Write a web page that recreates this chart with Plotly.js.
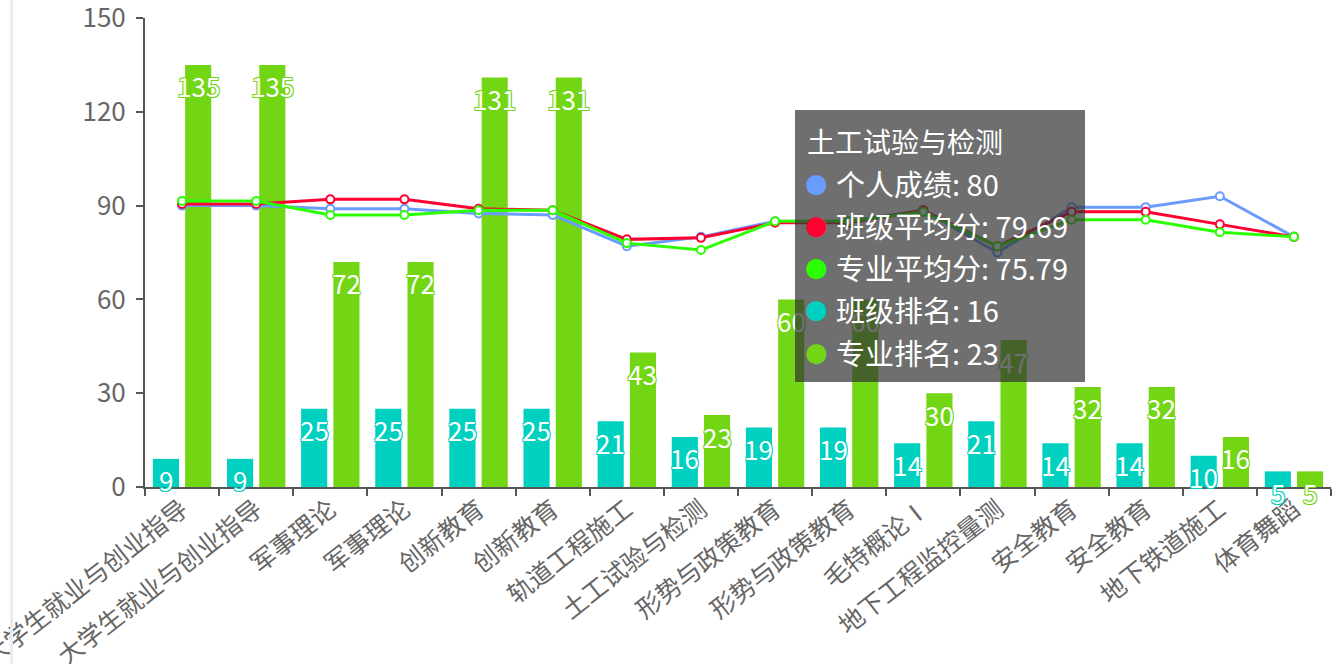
<!DOCTYPE html>
<html>
<head>
<meta charset="utf-8">
<script src="https://cdn.plot.ly/plotly-3.0.1.min.js"></script>
<style>
html,body{margin:0;padding:0;background:#fff;}
#chart{width:1333px;height:664px;position:relative;}
#edge{position:absolute;left:10px;top:0;width:3px;height:664px;background:#e9ecf5;z-index:5;}
</style>
</head>
<body>
<div id="edge"></div>
<div id="chart"></div>
<script>
const categories = ["大学生就业与创业指导","大学生就业与创业指导","军事理论","军事理论","创新教育","创新教育","轨道工程施工","土工试验与检测","形势与政策教育","形势与政策教育","毛特概论Ⅰ","地下工程监控量测","安全教育","安全教育","地下铁道施工","体育舞蹈"];
const personalScore = [90, 90, 89, 89, 87.5, 87, 77, 80, 85, 85, 88.5, 75, 89.5, 89.5, 93, 80];
const classAvg = [90.5, 90.5, 92, 92, 89, 88.5, 79.2, 79.69, 84.5, 84.5, 88.5, 77, 88, 88, 84, 80];
const majorAvg = [91.5, 91.5, 87, 87, 88.5, 88.5, 78, 75.79, 85, 85, 88, 77, 85.5, 85.5, 81.5, 80];
const classRank = [9, 9, 25, 25, 25, 25, 21, 16, 19, 19, 14, 21, 14, 14, 10, 5];
const majorRank = [135, 135, 72, 72, 131, 131, 43, 23, 60, 60, 30, 47, 32, 32, 16, 5];
const seriesNames = ["个人成绩","班级平均分","专业平均分","班级排名","专业排名"];
const yTicks = [0, 30, 60, 90, 120, 150];
const tooltipIndex = 7;

const C_BLUE = '#6a9bff', C_RED = '#ff0033', C_GREEN = '#2bff00', C_CYAN = '#00d0bf', C_BARGREEN = '#73d614';
const FONT = '"Noto Sans CJK SC", "Noto Sans", sans-serif';
const idx = categories.map((_, i) => i);
const bounds = categories.map((_, i) => i - 0.5).concat([categories.length - 0.5]);

function lineTrace(name, y, color) {
  return {type:'scatter', mode:'lines+markers', name, x: idx, y,
    line:{color, width:3}, marker:{size:8, color:'#fff', line:{color, width:2}}, hoverinfo:'skip'};
}
function barTrace(name, y, color) {
  return {type:'bar', name, x: idx, y, marker:{color}, hoverinfo:'skip'};
}
const traces = [
  barTrace(seriesNames[3], classRank, C_CYAN),
  barTrace(seriesNames[4], majorRank, C_BARGREEN),
  lineTrace(seriesNames[0], personalScore, C_BLUE),
  lineTrace(seriesNames[1], classAvg, C_RED),
  lineTrace(seriesNames[2], majorAvg, C_GREEN)
];

function outline(c){ return `-1px -1px 0 ${c}, 1px -1px 0 ${c}, -1px 1px 0 ${c}, 1px 1px 0 ${c}`; }
const annotations = [];
function barLabels(vals, color, shift){
  vals.forEach((v, i) => annotations.push({x:i, y:v, xref:'x', yref:'y', text:String(v), showarrow:false,
    xshift:shift, yshift:-21, yanchor:'middle', xanchor:'center',
    font:{family:FONT, size:26, color:'#fff', shadow: outline(color)}}));
}
barLabels(classRank, C_CYAN, -16.1);
barLabels(majorRank, C_BARGREEN, 16.1);

// tooltip (pixel -> paper helpers)
const L = 145, R = 1331, T = 18, B = 487;
const px = x => (x - L) / (R - L);
const py = y => (B - y) / (B - T);
annotations.push({xref:'paper', yref:'paper', x:px(940), y:py(246), xanchor:'center', yanchor:'middle',
  text:' ', showarrow:false, width:290, height:272, bgcolor:'rgba(50,50,50,0.7)', borderpad:0, borderwidth:0});
annotations.push({xref:'paper', yref:'paper', x:px(805), y:py(141), xanchor:'left', yanchor:'middle',
  text:categories[tooltipIndex], showarrow:false, font:{family:FONT, size:28, color:'#fff'}});
const rowVals = [personalScore, classAvg, majorAvg, classRank, majorRank];
const rowColors = [C_BLUE, C_RED, C_GREEN, C_CYAN, C_BARGREEN];
const rowY = [183, 225, 267, 309, 352];
rowVals.forEach((arr, k) => {
  annotations.push({xref:'paper', yref:'paper', x:px(816), y:py(rowY[k]), xanchor:'center', yanchor:'middle',
    text:'●', showarrow:false, font:{family:'DejaVu Sans', size:26, color:rowColors[k]}});
  annotations.push({xref:'paper', yref:'paper', x:px(834), y:py(rowY[k]), xanchor:'left', yanchor:'middle',
    text: seriesNames[k] + ': ' + arr[tooltipIndex], showarrow:false, font:{family:FONT, size:29, color:'#fff'}});
});

const layout = {
  width:1333, height:664,
  margin:{l:L, r:1333-R, t:T, b:664-B},
  paper_bgcolor:'#fff', plot_bgcolor:'#fff',
  showlegend:false,
  barmode:'group', bargap:0.13, bargroupgap:0.19,
  font:{family:FONT, color:'#666'},
  xaxis:{type:'linear', range:[-0.5, categories.length - 0.5], tickmode:'array', tickvals:idx, ticktext:categories,
    ticks:'', tickangle:-38, ticklabeloverflow:'allow', ticklabelstandoff:-4,
    tickfont:{family:FONT, size:25, color:'#666'}, showline:true, linecolor:'#555', linewidth:2,
    showgrid:false, zeroline:false, automargin:false,
    minor:{tickmode:'array', tickvals:bounds, ticks:'outside', ticklen:7, tickwidth:2, tickcolor:'#555', showgrid:false}},
  yaxis:{range:[0,150], tickmode:'array', tickvals:yTicks, ticks:'outside', ticklen:7, tickwidth:2, tickcolor:'#555',
    ticklabeloverflow:'allow',
    tickfont:{family:FONT, size:26, color:'#666'}, showline:true, linecolor:'#555', linewidth:2,
    showgrid:false, zeroline:false, automargin:false, ticklabelstandoff:5},
  annotations
};
Plotly.newPlot('chart', traces, layout, {displayModeBar:false, staticPlot:true});
</script>
</body>
</html>
